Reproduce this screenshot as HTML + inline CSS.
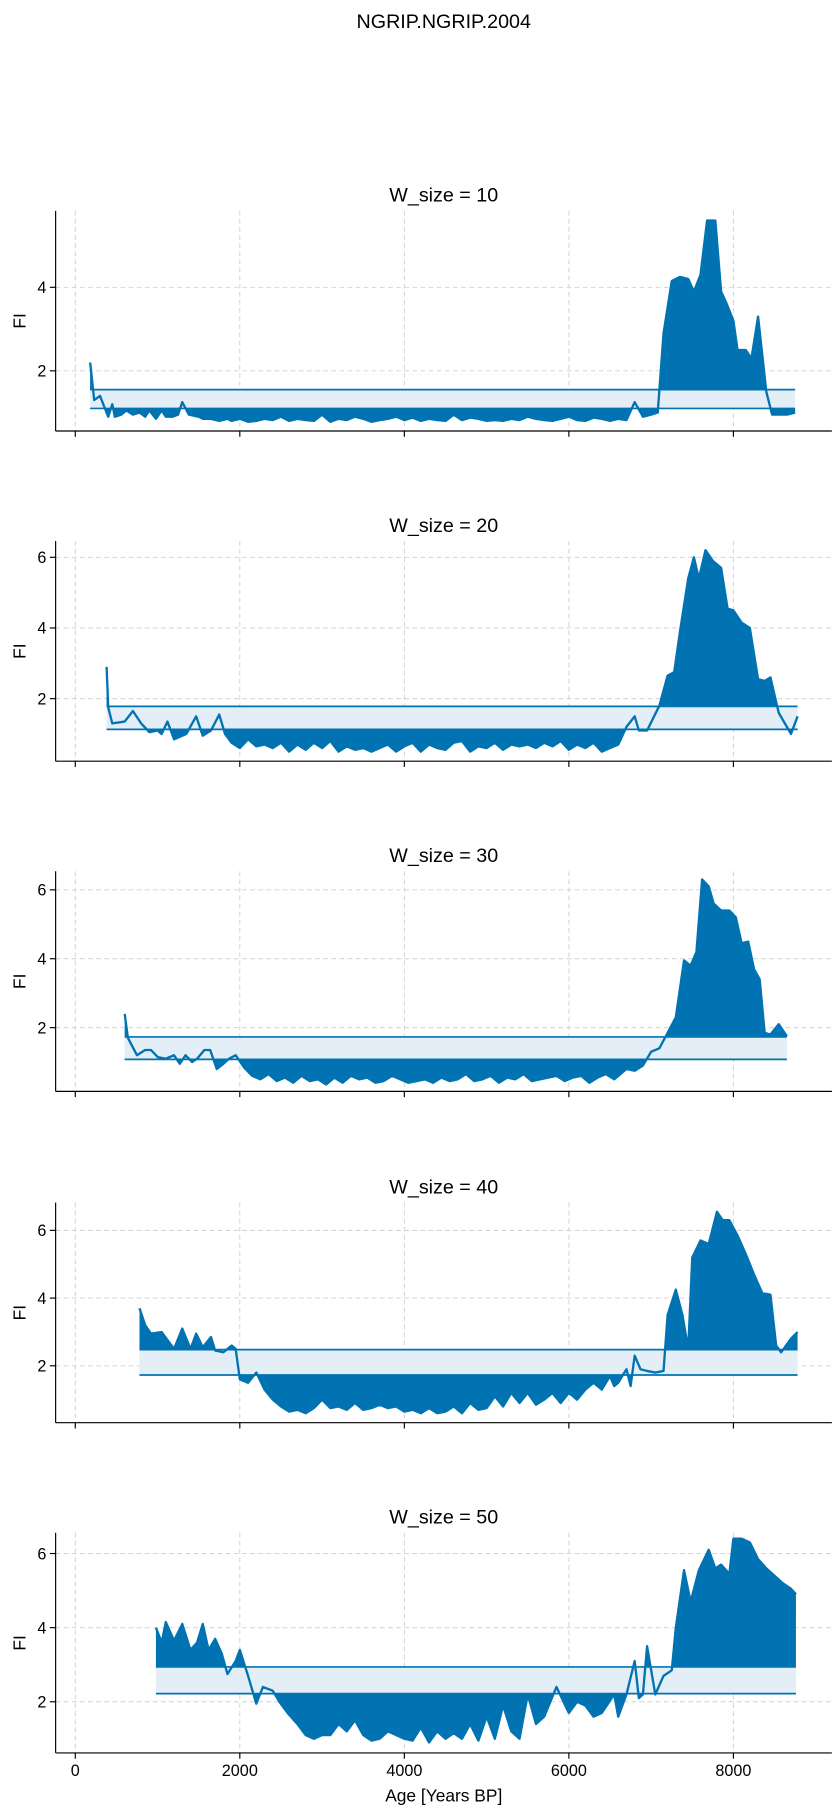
<!DOCTYPE html>
<html><head><meta charset="utf-8"><style>
html,body{margin:0;padding:0;background:#fff;}
svg{display:block;font-family:"Liberation Sans",Arial,sans-serif;}
</style></head><body>
<svg id="fig" width="840" height="1812" viewBox="0 0 725 1564" xmlns="http://www.w3.org/2000/svg">
<text x="383" y="24" font-size="17" text-anchor="middle">NGRIP.NGRIP.2004</text>
</svg>
<script>
// ---- data ----
const titles=["W_size = 10","W_size = 20","W_size = 30","W_size = 40","W_size = 50"];
const xTicks=[0,2000,4000,6000,8000];
const age1=[180,230,300,340,400,450,480,560,620,700,780,850,900,980,1050,1100,1180,1250,1300,1380,1450,1500,1550,1650,1750,1850,1900,2000,2100,2200,2300,2400,2500,2600,2700,2800,2900,3000,3100,3200,3300,3400,3500,3600,3700,3800,3900,4000,4100,4200,4300,4400,4500,4600,4700,4800,4900,5000,5100,5200,5300,5400,5500,5600,5700,5800,5900,6000,6100,6200,6300,6400,6500,6600,6700,6800,6900,7000,7080,7150,7250,7350,7450,7520,7600,7680,7780,7850,7920,8000,8050,8150,8220,8300,8400,8470,8550,8650,8750];
const fi1=[2.2,1.3,1.4,1.2,0.9,1.2,0.9,0.95,1.05,0.95,1.0,0.9,1.05,0.85,1.05,0.9,0.9,0.95,1.25,0.95,0.92,0.9,0.85,0.85,0.8,0.85,0.8,0.85,0.78,0.8,0.85,0.82,0.9,0.8,0.85,0.82,0.8,0.95,0.78,0.85,0.82,0.9,0.85,0.78,0.82,0.85,0.9,0.82,0.88,0.8,0.85,0.82,0.8,0.95,0.82,0.88,0.85,0.8,0.82,0.8,0.85,0.82,0.9,0.85,0.82,0.8,0.85,0.9,0.82,0.8,0.88,0.85,0.8,0.85,0.82,1.25,0.9,0.95,1.0,2.9,4.15,4.25,4.2,3.9,4.3,5.6,5.6,3.9,3.6,3.2,2.5,2.5,2.3,3.3,1.5,0.95,0.95,0.95,1.0];
const age2=[380,400,450,600,700,800,900,1000,1050,1120,1200,1350,1470,1550,1650,1750,1820,1900,2000,2100,2200,2300,2400,2500,2600,2700,2800,2900,3000,3100,3200,3300,3400,3500,3600,3700,3800,3900,4000,4100,4200,4300,4400,4500,4600,4700,4800,4900,5000,5100,5200,5300,5400,5500,5600,5700,5800,5900,6000,6100,6200,6300,6400,6500,6600,6700,6800,6850,6950,7100,7200,7280,7350,7450,7520,7580,7660,7750,7850,7930,8000,8100,8200,8300,8380,8450,8550,8700,8780];
const fi2=[2.9,1.75,1.3,1.35,1.65,1.3,1.05,1.1,1.0,1.35,0.85,1.0,1.5,0.95,1.1,1.55,1.0,0.75,0.6,0.85,0.65,0.7,0.6,0.75,0.5,0.7,0.55,0.75,0.6,0.8,0.5,0.65,0.55,0.6,0.5,0.6,0.7,0.5,0.65,0.75,0.5,0.7,0.6,0.55,0.75,0.8,0.5,0.65,0.6,0.75,0.55,0.7,0.65,0.7,0.6,0.75,0.65,0.8,0.55,0.7,0.6,0.75,0.5,0.6,0.7,1.2,1.5,1.1,1.1,1.8,2.65,2.75,3.9,5.4,6.0,5.4,6.2,5.9,5.7,4.55,4.5,4.15,4.0,2.55,2.5,2.6,1.6,1.0,1.5];
const age3=[600,640,750,850,920,1000,1100,1200,1270,1340,1420,1480,1570,1640,1720,1800,1870,1950,2050,2150,2250,2350,2450,2550,2650,2750,2850,2950,3050,3150,3250,3350,3450,3550,3650,3750,3850,3950,4050,4150,4250,4350,4450,4550,4650,4750,4850,4950,5050,5150,5250,5350,5450,5550,5650,5750,5850,5950,6050,6150,6250,6350,6450,6550,6700,6800,6900,7000,7100,7200,7300,7400,7480,7550,7620,7700,7760,7850,7950,8030,8100,8180,8250,8320,8380,8450,8550,8650];
const fi3=[2.4,1.7,1.2,1.35,1.35,1.15,1.1,1.2,0.95,1.2,1.0,1.1,1.35,1.35,0.8,0.95,1.1,1.2,0.85,0.6,0.5,0.65,0.45,0.55,0.4,0.6,0.45,0.5,0.35,0.55,0.4,0.6,0.5,0.55,0.4,0.45,0.6,0.5,0.4,0.45,0.5,0.4,0.55,0.45,0.5,0.65,0.45,0.5,0.6,0.4,0.55,0.5,0.65,0.45,0.5,0.55,0.6,0.45,0.55,0.6,0.4,0.55,0.65,0.5,0.8,0.75,0.9,1.3,1.4,1.85,2.3,3.95,3.8,4.2,6.3,6.1,5.6,5.4,5.4,5.2,4.45,4.5,3.7,3.4,1.85,1.8,2.1,1.75];
const age4=[780,850,920,1050,1200,1300,1400,1470,1550,1650,1700,1800,1900,1950,2000,2100,2200,2300,2400,2500,2600,2700,2800,2900,3000,3100,3200,3300,3400,3500,3600,3700,3800,3900,4000,4100,4200,4300,4400,4500,4600,4700,4800,4900,5000,5100,5200,5300,5400,5500,5600,5700,5800,5900,6000,6100,6200,6300,6400,6500,6550,6600,6700,6750,6800,6870,6950,7050,7150,7200,7300,7380,7450,7500,7600,7700,7800,7870,7950,8050,8150,8250,8350,8450,8520,8580,8700,8780];
const fi4=[3.7,3.2,2.95,3.0,2.5,3.1,2.5,2.95,2.55,2.85,2.45,2.4,2.6,2.5,1.6,1.5,1.8,1.3,1.0,0.8,0.65,0.7,0.6,0.75,1.0,0.75,0.8,0.7,0.9,0.7,0.75,0.85,0.75,0.8,0.65,0.7,0.6,0.75,0.6,0.65,0.8,0.6,0.9,0.7,0.75,1.1,0.8,1.2,0.9,1.2,0.85,1.0,1.2,0.9,1.2,1.0,1.3,1.5,1.3,1.7,1.4,1.5,1.9,1.4,2.3,1.9,1.85,1.8,1.85,3.5,4.25,3.5,2.5,5.2,5.7,5.6,6.55,6.3,6.3,5.85,5.3,4.7,4.15,4.1,2.6,2.4,2.8,3.0];
const age5=[980,1050,1100,1200,1300,1400,1480,1550,1620,1700,1780,1850,1950,2000,2100,2200,2280,2400,2480,2580,2700,2800,2900,3000,3100,3200,3300,3400,3500,3600,3700,3800,3900,4000,4100,4200,4300,4400,4500,4600,4700,4800,4900,5000,5100,5200,5300,5400,5500,5600,5700,5850,6000,6100,6200,6300,6400,6550,6600,6700,6800,6850,6900,6950,7050,7150,7250,7300,7400,7480,7580,7700,7780,7850,7950,8000,8100,8200,8300,8400,8500,8600,8700,8760];
const fi5=[4.0,3.6,4.15,3.65,4.1,3.4,3.6,4.1,3.4,3.7,3.3,2.75,3.1,3.4,2.7,1.95,2.4,2.3,2.0,1.7,1.4,1.1,1.0,1.1,1.1,1.4,1.2,1.5,1.1,0.95,1.0,1.2,1.1,1.0,0.95,1.3,0.9,1.2,1.0,1.15,1.0,1.4,0.95,1.6,1.0,1.9,1.2,1.0,2.2,1.4,1.6,2.4,1.7,2.0,1.9,1.6,1.7,2.2,1.6,2.2,3.1,2.1,2.2,3.5,2.2,2.7,2.85,4.0,5.55,4.7,5.55,6.1,5.6,5.7,5.45,6.4,6.4,6.3,5.85,5.6,5.4,5.2,5.05,4.9];
const ages=[age1,age2,age3,age4,age5];
const fis=[fi1,fi2,fi3,fi4,fi5];
const bandLow=[1.1,1.13,1.08,1.73,2.22];
const bandHigh=[1.55,1.78,1.73,2.48,2.94];
const yMins=[0.56,0.23,0.15,0.32,0.62];
const yMaxs=[5.83,6.46,6.54,6.82,6.56];
const yTicksAll=[[2,4],[2,4,6],[2,4,6],[2,4,6],[2,4,6]];
// ---- layout ----
const NS="http://www.w3.org/2000/svg";
const svg=document.getElementById('fig');
const L=48,R=718,H=190,tops=[182,467,752,1038,1323];
const X0=-239,X1=9197;
const C="#0173b2";
function sx(v){return L+(v-X0)/(X1-X0)*(R-L);}
function mk(tag,attrs,parent){const e=document.createElementNS(NS,tag);for(const k in attrs)e.setAttribute(k,attrs[k]);(parent||svg).appendChild(e);return e;}
for(let p=0;p<5;p++){
  const top=tops[p],bot=top+H,ymin=yMins[p],ymax=yMaxs[p];
  const sy=v=>bot-(v-ymin)/(ymax-ymin)*H;
  const g=mk('g',{});
  
  
  const t=mk('text',{x:383,y:top-8,'font-size':17,'text-anchor':'middle'},g);t.textContent=titles[p];
  
  
  xTicks.forEach(v=>{const l=mk('line',{x1:sx(v),x2:sx(v),y1:top,y2:bot,stroke:'#d0d0d0','stroke-dasharray':'4,3','stroke-width':0.8},g);
    
    });
  yTicksAll[p].forEach(v=>{const l=mk('line',{x1:L,x2:R,y1:sy(v),y2:sy(v),stroke:'#d0d0d0','stroke-dasharray':'4,3','stroke-width':0.8},g);
    
    
    const tk=mk('line',{x1:L-5,x2:L,y1:sy(v),y2:sy(v),stroke:'#000','stroke-width':1},g);
    
    
    const tl=mk('text',{x:L-8,y:sy(v)+5,'font-size':14,'text-anchor':'end'},g);tl.textContent=v;
    
    });
  const a=ages[p],f=fis[p];
  const xa=sx(a[0]),xb=sx(a[a.length-1]);
  const lo=sy(bandLow[p]),hi=sy(bandHigh[p]);
  const band=mk('rect',{x:xa,y:hi,width:xb-xa,height:lo-hi,fill:'#e3eef6'},g);
  
  
  const cu=mk('clipPath',{id:'cu'+p},g);mk('rect',{x:0,y:0,width:725,height:hi},cu);
  const cl=mk('clipPath',{id:'cl'+p},g);mk('rect',{x:0,y:lo,width:725,height:1564},cl);
  const pts=a.map((v,i)=>sx(v).toFixed(1)+','+sy(f[i]).toFixed(1));
  const up=mk('polygon',{points:pts.join(' ')+' '+xb+','+hi+' '+xa+','+hi,fill:C,'clip-path':'url(#cu'+p+')'},g);
  
  
  const dn=mk('polygon',{points:pts.join(' ')+' '+xb+','+lo+' '+xa+','+lo,fill:C,'clip-path':'url(#cl'+p+')'},g);
  
  
  [hi,lo].forEach(y=>{const l=mk('line',{x1:xa,x2:xb,y1:y,y2:y,stroke:C,'stroke-width':1.5},g);
    
    });
  const line=mk('polyline',{points:pts.join(' '),fill:'none',stroke:C,'stroke-width':2,'stroke-linejoin':'round'},g);
  
  
  const sp1=mk('line',{x1:L,x2:L,y1:top,y2:bot,stroke:'#000','stroke-width':1},g);
  
  
  const sp2=mk('line',{x1:L,x2:R,y1:bot,y2:bot,stroke:'#000','stroke-width':1},g);
  
  
  xTicks.forEach(v=>{const tk=mk('line',{x1:sx(v),x2:sx(v),y1:bot,y2:bot+5,stroke:'#000','stroke-width':1},g);
    
    
    if(p===4){const tl=mk('text',{x:sx(v),y:bot+20,'font-size':14,'text-anchor':'middle'},g);tl.textContent=v;
      
      }});
  const yl=mk('text',{x:0,y:0,'font-size':15,'text-anchor':'middle',transform:'translate(22,'+(top+H/2)+') rotate(-90)'},g);yl.textContent='FI';
  
  
}
const xl=mk('text',{x:383,y:1555,'font-size':15,'text-anchor':'middle'});xl.textContent='Age [Years BP]';


</script>
</body></html>
